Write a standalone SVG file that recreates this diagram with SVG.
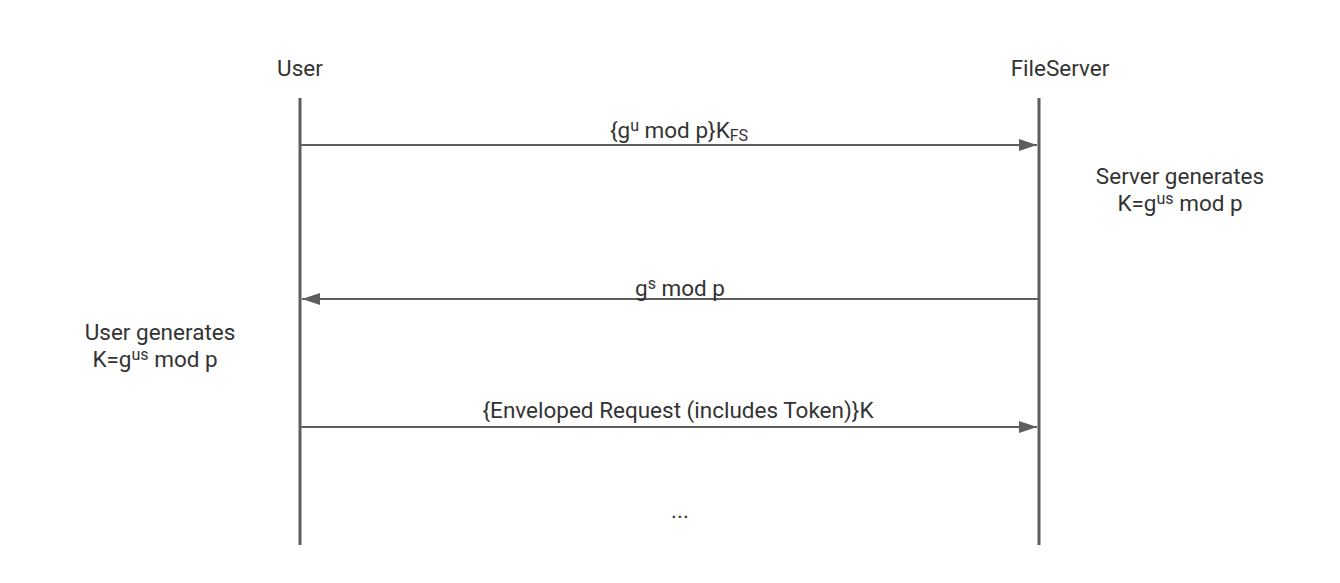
<svg xmlns="http://www.w3.org/2000/svg" width="1340" height="583" viewBox="0 0 1340 583">
<style>
text{font-family:Roboto,"Liberation Sans",Arial,sans-serif;font-size:22.5px;fill:#333333;text-anchor:middle}
.sup{font-size:16px}
.life{stroke:#5e5e5e;stroke-width:3}
.msg{stroke:#5e5e5e;stroke-width:2;fill:none}
</style>
<defs>
<marker id="ah" viewBox="0 0 18 12" refX="18" refY="6" markerWidth="18" markerHeight="12" markerUnits="userSpaceOnUse" orient="auto">
<path d="M0,0 L18,6 L0,12 z" fill="#5e5e5e"/>
</marker>
</defs>
<rect width="1340" height="583" fill="#ffffff"/>
<g id="user">
<text x="300" y="76">User</text>
<line class="life" x1="300" y1="98" x2="300" y2="545"/>
</g>
<g id="fileserver">
<text x="1060" y="76">FileServer</text>
<line class="life" x1="1039" y1="98" x2="1039" y2="545"/>
</g>
<g id="connectors">
<line class="msg" x1="301" y1="145" x2="1037" y2="145" marker-end="url(#ah)"/>
<line class="msg" x1="1038" y1="299" x2="302" y2="299" marker-end="url(#ah)"/>
<line class="msg" x1="301" y1="427" x2="1037" y2="427" marker-end="url(#ah)"/>
</g>
<g id="labels">
<text x="679" y="138">{g<tspan class="sup" dy="-7">u</tspan><tspan dy="7"> mod p}K</tspan><tspan class="sup" dy="3">FS</tspan></text>
<text x="680" y="296">g<tspan class="sup" dy="-7">s</tspan><tspan dy="7"> mod p</tspan></text>
<text x="678" y="418">{Enveloped Request (includes Token)}K</text>
<text x="680" y="518">...</text>
</g>
<g id="server-note">
<text x="1180" y="184">Server generates</text>
<text x="1180" y="211">K=g<tspan class="sup" dy="-7">us</tspan><tspan dy="7"> mod p</tspan></text>
</g>
<g id="user-note">
<text x="160" y="340">User generates</text>
<text x="155" y="367">K=g<tspan class="sup" dy="-7">us</tspan><tspan dy="7"> mod p</tspan></text>
</g>
</svg>
